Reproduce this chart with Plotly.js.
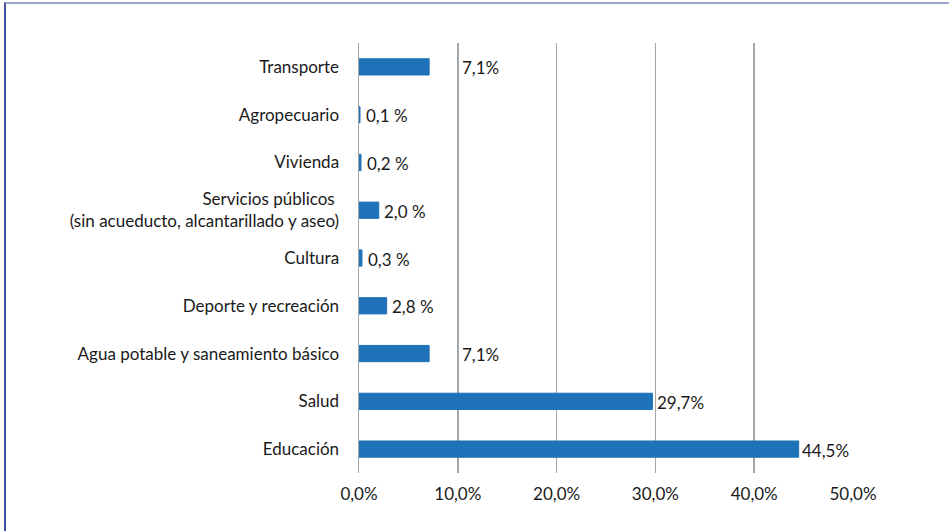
<!DOCTYPE html>
<html>
<head>
<meta charset="utf-8">
<script src="https://cdn.plot.ly/plotly-3.0.1.min.js"></script>
<style>
  html, body { margin: 0; padding: 0; background: #fff; }
  #frame { position: absolute; left: 4px; top: 2px; width: 945px; height: 529px;
           border-top: 2px solid #9aa5cc; border-left: 2px solid #3f4f9c; box-sizing: border-box; }
  #chart { position: absolute; left: 0; top: 0; width: 949px; height: 531px; }
</style>
</head>
<body>
<div id="frame"></div>
<div id="chart"></div>
<script>
// Categories listed bottom to top
const categories = [
  "Educación",
  "Salud",
  "Agua potable y saneamiento básico",
  "Deporte y recreación",
  "Cultura",
  "Servicios públicos&nbsp;<br>(sin acueducto, alcantarillado y aseo)",
  "Vivienda",
  "Agropecuario",
  "Transporte"
];
const values = [44.5, 29.7, 7.1, 2.8, 0.3, 2.0, 0.2, 0.1, 7.1];
const valueLabels = ["44,5%", "29,7%", "7,1%", "2,8 %", "0,3 %", "2,0 %", "0,2 %", "0,1 %", "7,1%"];
const tickValues = [0, 10, 20, 30, 40, 50];
const tickLabels = ["0,0%", "10,0%", "20,0%", "30,0%", "40,0%", "50,0%"];

// label horizontal offsets (styling)
const labelShift = [1, 3, 31, 3, 4, 3, 4, 4, 31];

const FONT = "Lato, 'Open Sans', sans-serif";

const trace = {
  type: "bar",
  orientation: "h",
  y: categories,
  x: values,
  marker: { color: "#1f72b8", line: { color: "#1f72b8", width: 1 } },
  width: 0.34,
  hoverinfo: "skip"
};

const annotations = values.map((v, i) => ({
  x: v, y: categories[i], xref: "x", yref: "y",
  text: valueLabels[i], showarrow: false,
  xanchor: "left", yanchor: "middle", xshift: labelShift[i], yshift: -1,
  font: { family: FONT, size: 17, color: "#1a1a1a" }
}));

const layout = {
  width: 949, height: 531,
  margin: { l: 359, r: 96, t: 43, b: 58 },
  paper_bgcolor: "rgba(0,0,0,0)",
  plot_bgcolor: "rgba(0,0,0,0)",
  showlegend: false,
  font: { family: FONT, size: 17, color: "#1a1a1a" },
  xaxis: {
    range: [0, 50],
    tickvals: tickValues,
    ticktext: tickLabels,
    showgrid: true,
    gridcolor: "#a6a6a6",
    gridwidth: 1.5,
    zeroline: false,
    showline: false,
    ticks: "",
    ticklabelstandoff: 9,
    tickfont: { family: FONT, size: 17, color: "#1a1a1a" },
    fixedrange: true
  },
  yaxis: {
    type: "category",
    categoryorder: "array",
    categoryarray: categories,
    range: [-0.5, 8.5],
    showgrid: false,
    zeroline: false,
    showline: true,
    linecolor: "#a6a6a6",
    linewidth: 1.5,
    ticks: "",
    ticklabelstandoff: 15,
    tickfont: { family: FONT, size: 17, color: "#1a1a1a" },
    fixedrange: true
  },
  annotations: annotations
};

Plotly.newPlot("chart", [trace], layout, { staticPlot: true, displayModeBar: false });
</script>
</body>
</html>
